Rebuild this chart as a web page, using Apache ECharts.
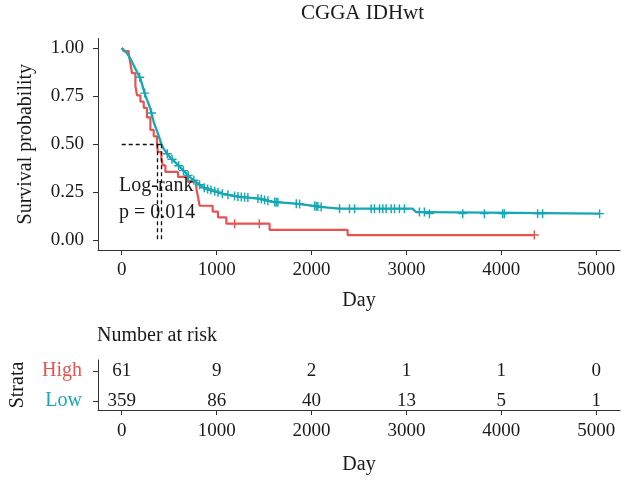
<!DOCTYPE html>
<html><head><meta charset="utf-8">
<script src="https://cdn.jsdelivr.net/npm/echarts@6/dist/echarts.min.js"></script>
<style>html,body{margin:0;padding:0;background:#fff}#c{width:626px;height:481px}</style>
</head><body><div id="c"></div>
<script>
// ---- data ----
const dayTicks = [0, 1000, 2000, 3000, 4000, 5000];
const probTicks = [0, 0.25, 0.5, 0.75, 1];
const strata = ['High', 'Low'];

// High-risk group KM steps (day, survival)
const highTime = [0, 21, 74, 92, 108, 144, 161, 197, 232, 266, 302, 337, 372, 382, 418, 432, 460, 593, 698, 786, 800, 821, 958, 1014, 1102, 1558, 2380, 4347];
const highSurv = [1, 0.984, 0.967, 0.918, 0.869, 0.803, 0.754, 0.721, 0.689, 0.639, 0.574, 0.541, 0.492, 0.459, 0.426, 0.39, 0.356, 0.330, 0.304, 0.27, 0.235, 0.18, 0.15, 0.12, 0.087, 0.055, 0.0275, 0.0275];

// Low-risk group KM curve (day, survival)
const lowTime = [0, 21, 60, 92, 144, 197, 249, 302, 337, 389, 421, 442, 505, 576, 645, 716, 786, 856, 961, 1066, 1242, 1453, 1589, 1839, 1979, 2116, 2295, 3063, 3102, 3230, 3242, 5035];
const lowSurv = [1, 0.996, 0.97, 0.944, 0.892, 0.840, 0.754, 0.684, 0.615, 0.545, 0.497, 0.476, 0.434, 0.40, 0.365, 0.33, 0.302, 0.276, 0.258, 0.242, 0.226, 0.217, 0.20, 0.191, 0.182, 0.173, 0.165, 0.165, 0.147, 0.147, 0.139, 0.139];

// censoring times
const highCensor = [1190, 1450, 4347];
const lowCensor = [189, 242, 313, 480, 530, 600, 650, 700, 760, 820, 870, 905, 940, 980, 1014, 1060, 1119, 1189, 1224, 1260, 1295, 1329, 1435, 1471, 1505, 1540, 1611, 1628, 1645, 1839, 1874, 2032, 2049, 2066, 2102, 2295, 2400, 2453, 2628, 2663, 2716, 2751, 2786, 2839, 2874, 2926, 2979, 3137, 3189, 3242, 3593, 3821, 4014, 4032, 4382, 4435, 5035];

const medianDays = [372, 421];
const riskHigh = [61, 9, 2, 1, 1, 0];
const riskLow = [359, 86, 40, 13, 5, 1];

// ---- styling ----
const RED = '#E8524F';
const CYAN = '#14A8B5';
const FONT = "'Liberation Serif', 'DejaVu Serif', serif";
const TXT = '#1a1a1a';

function stepAt(times, surv, t) {
  let v = surv[0];
  for (let i = 0; i < times.length; i++) { if (times[i] <= t) v = surv[i]; }
  return v;
}
function lineAt(times, surv, t) {
  for (let i = 1; i < times.length; i++) {
    if (t <= times[i]) {
      const f = (t - times[i - 1]) / (times[i] - times[i - 1]);
      return surv[i - 1] + f * (surv[i] - surv[i - 1]);
    }
  }
  return surv[surv.length - 1];
}

const plusSym = 'path://M4.2,0H5.8V10H4.2Z M0,4.2H10V5.8H0Z';
const axisLineStyle = { color: '#333', width: 1 };
const tickStyle = { show: true, length: 5, lineStyle: { color: '#333', width: 1 } };
const plainNum = v => String(v);
const riskLabel = {
  show: true, position: 'inside', formatter: p => String(p.value[2]), opacity: 1,
  fontFamily: FONT, fontSize: 19, color: TXT, textBorderWidth: 0, textShadowBlur: 0
};

const chart = echarts.init(document.getElementById('c'), null, { renderer: 'canvas' });
chart.setOption({
  animation: false,
  backgroundColor: '#fff',
  textStyle: { fontFamily: FONT },
  graphic: [
    { type: 'text', z: 100, left: 301, top: 3, style: { text: 'CGGA IDHwt', fontFamily: FONT, fontSize: 21, fill: TXT } },
    { type: 'text', z: 100, left: 119, top: 176, style: { text: 'Log-rank', fontFamily: FONT, fontSize: 20, fill: TXT } },
    { type: 'text', z: 100, left: 119, top: 203, style: { text: 'p = 0.014', fontFamily: FONT, fontSize: 20, fill: TXT } },
    { type: 'text', z: 100, left: 97, top: 326, style: { text: 'Number at risk', fontFamily: FONT, fontSize: 20, fill: TXT } }
  ],
  grid: [
    { left: 98, right: 6, top: 38.4, height: 211.6, outerBoundsMode: 'none', containLabel: false },
    { left: 98, right: 6, top: 360, height: 50, outerBoundsMode: 'none', containLabel: false }
  ],
  xAxis: [
    {
      gridIndex: 0, type: 'value', min: -250, max: 5250,
      name: 'Day', nameLocation: 'middle', nameGap: 41,
      nameTextStyle: { fontFamily: FONT, fontSize: 20, color: TXT },
      axisLine: { show: true, lineStyle: axisLineStyle, onZero: false },
      axisTick: Object.assign({ customValues: dayTicks }, tickStyle),
      axisLabel: { customValues: dayTicks, formatter: plainNum, fontFamily: FONT, fontSize: 19, color: TXT, margin: 11 },
      splitLine: { show: false }
    },
    {
      gridIndex: 1, type: 'value', min: -250, max: 5250,
      name: 'Day', nameLocation: 'middle', nameGap: 45,
      nameTextStyle: { fontFamily: FONT, fontSize: 20, color: TXT },
      axisLine: { show: true, lineStyle: axisLineStyle, onZero: false },
      axisTick: Object.assign({ customValues: dayTicks }, tickStyle),
      axisLabel: { customValues: dayTicks, formatter: plainNum, fontFamily: FONT, fontSize: 19, color: TXT, margin: 12 },
      splitLine: { show: false }
    }
  ],
  yAxis: [
    {
      gridIndex: 0, type: 'value', min: -0.05, max: 1.05,
      name: 'Survival probability', nameLocation: 'middle', nameGap: 62, nameRotate: 90,
      nameTextStyle: { fontFamily: FONT, fontSize: 20, color: TXT },
      axisLine: { show: true, lineStyle: axisLineStyle, onZero: false },
      axisTick: Object.assign({ customValues: probTicks }, tickStyle),
      axisLabel: { customValues: probTicks, formatter: v => v.toFixed(2), fontFamily: FONT, fontSize: 19, color: TXT, margin: 14 },
      splitLine: { show: false }
    },
    {
      gridIndex: 1, type: 'value', min: 0.7, max: 2.37,
      name: 'Strata', nameLocation: 'middle', nameGap: 70, nameRotate: 90,
      nameTextStyle: { fontFamily: FONT, fontSize: 20, color: TXT },
      axisLine: { show: true, lineStyle: axisLineStyle, onZero: false },
      axisTick: Object.assign({ customValues: [1, 2] }, tickStyle),
      axisLabel: {
        customValues: [1, 2], margin: 16,
        formatter: v => v === 2 ? '{h|' + strata[0] + '}' : '{l|' + strata[1] + '}',
        rich: {
          h: { color: RED, fontFamily: FONT, fontSize: 20 },
          l: { color: CYAN, fontFamily: FONT, fontSize: 20 }
        }
      },
      splitLine: { show: false }
    }
  ],
  series: [
    {
      name: 'High', type: 'line', step: 'end', xAxisIndex: 0, yAxisIndex: 0,
      data: highTime.map((t, i) => [t, highSurv[i]]),
      showSymbol: false, lineStyle: { color: RED, width: 2.2 }, z: 3
    },
    {
      name: 'Low', type: 'line', xAxisIndex: 0, yAxisIndex: 0,
      data: lowTime.map((t, i) => [t, lowSurv[i]]),
      showSymbol: false, lineStyle: { color: CYAN, width: 2.3 }, z: 4
    },
    {
      type: 'scatter', xAxisIndex: 0, yAxisIndex: 0, symbol: plusSym, symbolSize: [9, 9],
      data: highCensor.map(t => [t, stepAt(highTime, highSurv, t)]),
      itemStyle: { color: RED, opacity: 1 }, z: 5
    },
    {
      type: 'scatter', xAxisIndex: 0, yAxisIndex: 0, symbol: plusSym, symbolSize: [9, 9],
      data: lowCensor.map(t => [t, lineAt(lowTime, lowSurv, t)]),
      itemStyle: { color: CYAN, opacity: 1 }, z: 6
    },
    {
      type: 'line', xAxisIndex: 0, yAxisIndex: 0, data: [], z: 8,
      markLine: {
        silent: true, symbol: 'none', animation: false,
        lineStyle: { color: '#111', width: 1.3, type: [4, 3] },
        label: { show: false },
        data: [
          [{ coord: [0, 0.5] }, { coord: [Math.max(...medianDays), 0.5] }],
          [{ coord: [medianDays[0], 0.5] }, { coord: [medianDays[0], 0] }],
          [{ coord: [medianDays[1], 0.5] }, { coord: [medianDays[1], 0] }]
        ]
      }
    },
    {
      type: 'scatter', xAxisIndex: 1, yAxisIndex: 1, symbolSize: 0, itemStyle: { color: TXT, opacity: 1 },
      data: dayTicks.map((d, i) => [d, 2, riskHigh[i]]),
      label: riskLabel
    },
    {
      type: 'scatter', xAxisIndex: 1, yAxisIndex: 1, symbolSize: 0, itemStyle: { color: TXT, opacity: 1 },
      data: dayTicks.map((d, i) => [d, 1, riskLow[i]]),
      label: riskLabel
    }
  ]
});
</script>
</body></html>
